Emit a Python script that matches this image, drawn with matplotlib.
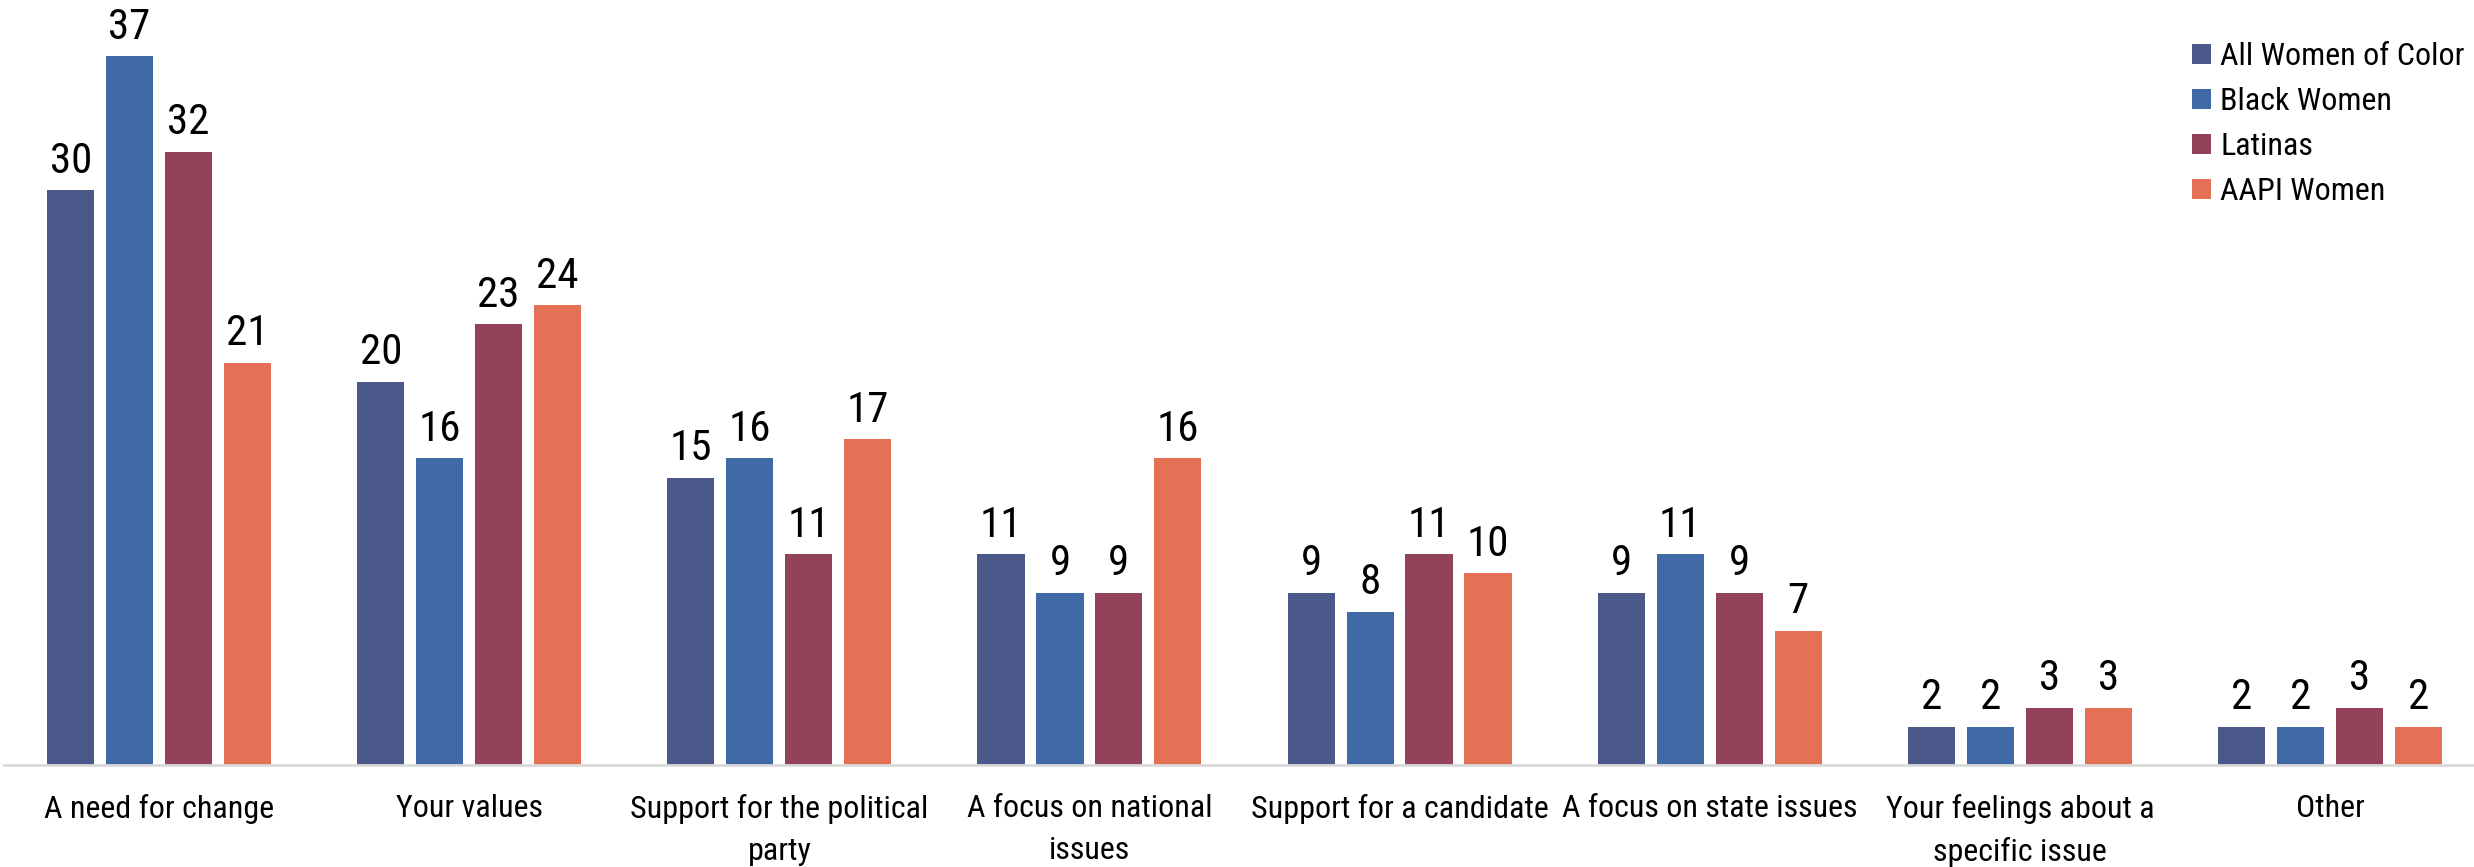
import matplotlib.pyplot as plt
import numpy as np

categories = [
    "A need for change",
    "Your values",
    "Support for the political\nparty",
    "A focus on national\nissues",
    "Support for a candidate",
    "A focus on state issues",
    "Your feelings about a\nspecific issue",
    "Other",
]
groups = ["All Women of Color", "Black Women", "Latinas", "AAPI Women"]
all_woc = [30, 20, 15, 11, 9, 9, 2, 2]
black = [37, 16, 16, 9, 8, 11, 2, 2]
latinas = [32, 23, 11, 9, 11, 9, 3, 3]
aapi = [21, 24, 17, 16, 10, 7, 3, 2]

colors = ["#4B598A", "#406AA5", "#934359", "#E47055"]

plt.rcParams["font.family"] = ["Roboto Condensed", "DejaVu Sans"]

W, H = 2474, 867
fig = plt.figure(figsize=(W / 100, H / 100), dpi=100)
# axes box in pixel terms: x from 4 to 2485, baseline at y=765
ax = fig.add_axes([4 / W, (H - 765) / H, (2485 - 4) / W, 765 / H])

x = np.arange(len(categories))
pitch = 0.19
width = 0.152
series = [all_woc, black, latinas, aapi]
for i, (vals, c, name) in enumerate(zip(series, colors, groups)):
    pos = x + (i - 1.5) * pitch
    bars = ax.bar(pos, vals, width=width, color=c, label=name, zorder=2)
    for b, v in zip(bars, vals):
        ax.text(b.get_x() + b.get_width() / 2, v + 0.45, str(v),
                ha="center", va="bottom", fontsize=31, color="black")

ax.set_xlim(-0.5, 7.5)
ax.set_ylim(0, 39.93)
ax.set_xticks(x)
ax.set_xticklabels(categories, fontsize=23, linespacing=1.55)
ax.tick_params(axis="x", length=0, pad=21)
ax.set_yticks([])

for s in ["left", "right", "top"]:
    ax.spines[s].set_visible(False)
ax.spines["bottom"].set_color("#D9D9D9")
ax.spines["bottom"].set_linewidth(2)

leg = ax.legend(
    loc="upper left",
    bbox_to_anchor=(2192 / W, 1 - 42 / H),
    bbox_transform=fig.transFigure,
    frameon=False,
    fontsize=23,
    handlelength=0.58,
    handleheight=0.58,
    handletextpad=0.3,
    labelspacing=0.5,
    borderpad=0,
    borderaxespad=0,
)

fig.savefig("out.png", dpi=100)
